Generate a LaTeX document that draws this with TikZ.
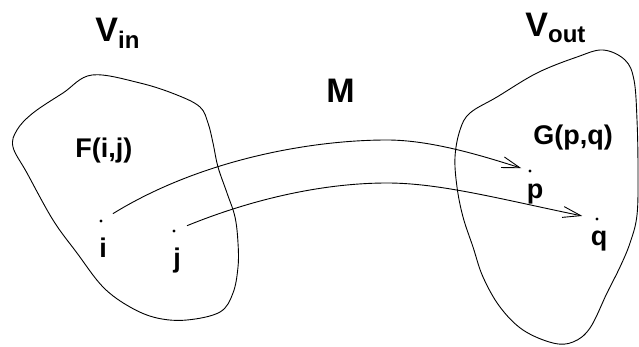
\documentclass[tikz,border=0pt]{standalone}
\usepackage{fontspec}
\setmainfont{Liberation Sans}
\usetikzlibrary{arrows.meta, positioning}

\begin{document}
\begin{tikzpicture}[x=1pt, y=-1pt, line width=0.9pt,
    big/.style={inner sep=0pt, font=\fontsize{34}{40}\selectfont\bfseries},
    lbl/.style={inner sep=0pt, font=\fontsize{27}{32}\selectfont\bfseries},
    dot/.style={circle, fill, inner sep=0pt, minimum size=3.2pt},
    map/.style={draw, -{Straight Barb[length=18pt, width=11pt]}}]
    \useasboundingbox (0,0) rectangle (639,347);

    % the two domains
    \draw plot[smooth cycle, tension=0.6] coordinates {
        (92,75) (140,83) (177,95) (200,107) (208,123) (213,143) (218,167)
        (227,193) (235,217) (238,243) (238,267) (233,293) (220,312) (187,320)
        (157,318) (130,307) (103,287) (77,253) (53,220) (27,173) (13,147)
        (17,130) (33,113) (63,93)};
    \draw plot[smooth cycle, tension=0.6] coordinates {
        (603,50) (577,57) (537,73) (497,97) (470,113) (460,130) (455,157)
        (457,187) (463,217) (473,247) (483,277) (500,307) (523,330) (553,343)
        (573,342) (590,328) (607,293) (620,267) (630,243) (637,215) (638,170)
        (637,120) (634,80) (625,60)};

    % labels
    \node [big, anchor=base west] (vin) at (95,42) {V\raisebox{-7pt}{\fontsize{24}{24}\selectfont in}};
    \node [big, anchor=base west] (vout) at (525,37) {V\raisebox{-6pt}{\fontsize{24}{24}\selectfont out}};
    \node [big, anchor=base west] (mlbl) at (326,103) {M};
    \node [lbl, anchor=base west] (fij) at (75,158) {F(i,j)};
    \node [lbl, anchor=base west] (gpq) at (533,145) {G(p,q)};

    % points
    \node [dot] (i) at (101,221) {};
    \node [dot] (j) at (174,231) {};
    \node [dot] (p) at (530,171) {};
    \node [dot] (q) at (597,219) {};
    \node [lbl, below=14pt of i, xshift=2pt] (ilbl) {i};
    \node [lbl, below=14pt of j, xshift=3pt] (jlbl) {j};
    \node [lbl, below=10pt of p, xshift=5pt] (plbl) {p};
    \node [lbl, below=9pt of q, xshift=2pt] (qlbl) {q};

    % the mapping
    \coordinate (utop) at (387,140);
    \coordinate (ltop) at (387,183);
    \path [map, shorten <=12pt, shorten >=7pt] (i) .. controls (200,160) and (310,140) .. (utop)
        .. controls (430,140) and (480,155) .. (p);
    \path [map, shorten <=12pt, shorten >=13pt] (j) .. controls (260,196) and (330,183) .. (ltop)
        .. controls (440,183) and (500,199) .. (q);
\end{tikzpicture}
\end{document}
